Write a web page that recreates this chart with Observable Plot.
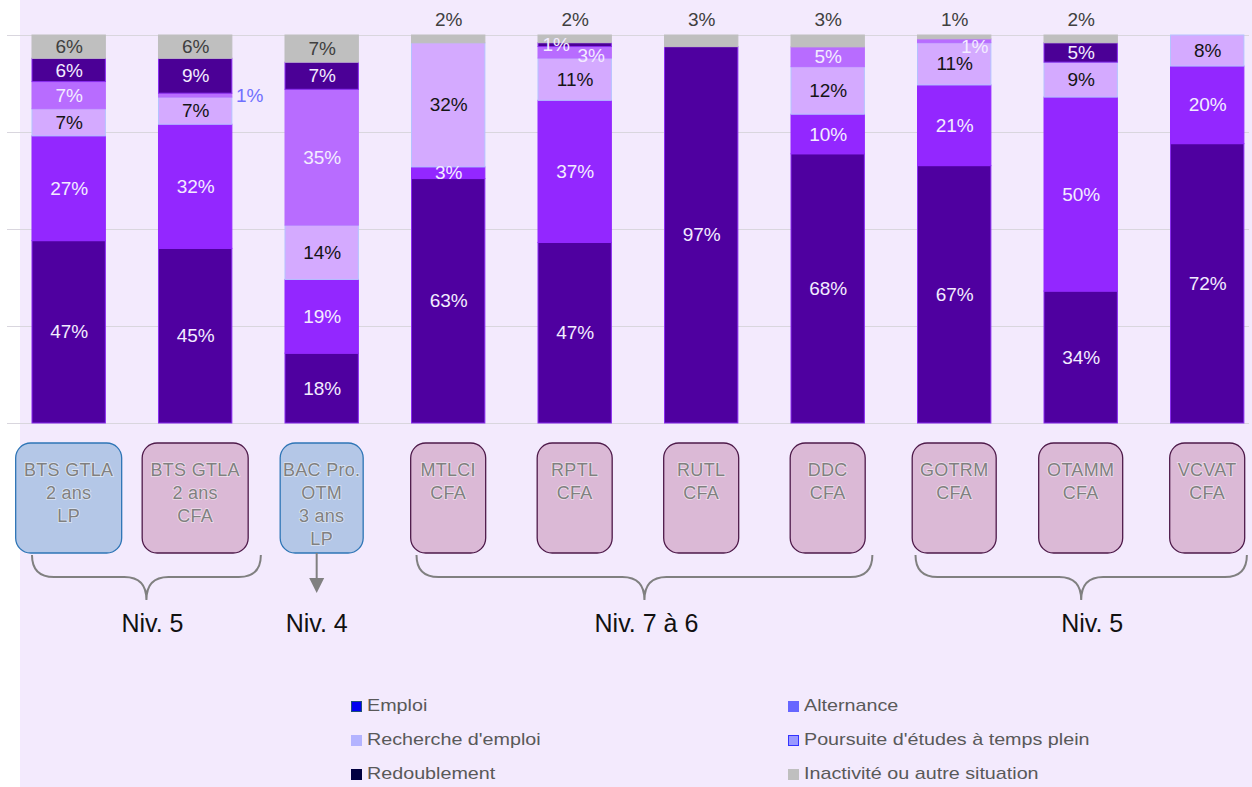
<!DOCTYPE html>
<html><head><meta charset="utf-8">
<script src="https://cdn.jsdelivr.net/npm/d3@7"></script>
<script src="https://cdn.jsdelivr.net/npm/@observablehq/plot@0.6"></script>
<style>
html,body{margin:0;padding:0}
body{width:1252px;height:787px;overflow:hidden;background:linear-gradient(to right,#ffffff 20px,#f3eafd 20px);font-family:"Liberation Sans",Arial,sans-serif}
#legend{position:relative;height:127px}
.lg{position:absolute;display:flex;align-items:center;font-size:17px;color:#595959;white-space:nowrap}
.lg .tx{display:inline-block;transform:scaleX(1.16);transform-origin:left center}
.sw{width:11px;height:11px;margin-right:5px;box-sizing:border-box}
</style></head><body>
<div id="chart"></div>
<div id="legend"></div>
<script>
// ---------- data ----------
const categories = ["BTS GTLA\n2 ans\nLP", "BTS GTLA\n2 ans\nCFA", "BAC Pro.\nOTM\n3 ans\nLP", "MTLCI\nCFA", "RPTL\nCFA", "RUTL\nCFA", "DDC\nCFA", "GOTRM\nCFA", "OTAMM\nCFA", "VCVAT\nCFA"];
const series = ["Emploi", "Alternance", "Recherche d'emploi", "Poursuite d'études à temps plein", "Redoublement", "Inactivité ou autre situation"];
const emploi       = [47, 45, 18, 63, 47, 97, 68, 67, 34, 72];
const alternance   = [27, 32, 19,  3, 37,  0, 10, 21, 50, 20];
const recherche    = [ 7,  7, 14, 32, 11,  0, 12, 11,  9,  8];
const poursuite    = [ 7,  1, 35,  0,  3,  0,  5,  1,  0,  0];
const redoublement = [ 6,  9,  7,  0,  1,  0,  0,  0,  5,  0];
const inactivite   = [ 6,  6,  7,  2,  2,  3,  3,  1,  2,  0];
const groupLabels = ["Niv. 5", "Niv. 4", "Niv. 7 à 6", "Niv. 5"];
const groupFirst  = [0, 2, 3, 7];
const groupLast   = [1, 2, 6, 9];

// ---------- styles ----------
const barFill   = ["#4f00a0", "#9327ff", "#d4aaff", "#b86cff", "#4b0096", "#bfbfbf"];
const barStroke = ["#8a2cf0", "#9327ff", "#b4c2ff", "#b86cff", "#8a2cf0", "#bfbfbf"];
const labelFill = ["#f3ecff", "#f3ecff", "#141414", "#f3ecff", "#f3ecff", "#404040"];
const legendFill   = ["#0000f0", "#6666ff", "#b3b3ff", "#9999ff", "#000040", "#bfbfbf"];
const legendBorder = ["#1f4e79", "#6666ff", "#b3b3ff", "#3333ff", "#000040", "#bfbfbf"];
const boxWidths = [106, 106, 83, 75, 75, 75, 75, 84, 84, 75];
const groupKind = ["brace", "arrow", "brace", "brace"];
const braceExtra = [[0, 29], [0, 0], [5, 8], [-2, 3]];
const labelDx = [6, 0, 2, 11];
// special label placements [category index, series index, dx, dy, fill]
const labelTweaks = [[1, 3, 54, 0, "#7070ff"], [4, 4, -19, 0, "#f3ecff"], [4, 3, 16, 3, "#f3ecff"], [7, 3, 20, 6, "#f3ecff"]];

const valuesBySeries = [emploi, alternance, recherche, poursuite, redoublement, inactivite];
const rows = [];
categories.forEach((cat, i) => series.forEach((s, j) => {
  const v = valuesBySeries[j][i];
  if (v > 0) rows.push({cat, ci: i, series: s, si: j, value: v});
}));

const isTweak = d => labelTweaks.some(t => t[0] === d.ci && t[1] === d.si);
const isAbove = d => d.si === 5 && d.value < 5;
const stackOpts = extra => Plot.stackY({x: "cat", y: "value", z: "series", order: series, offset: "normalize", ...extra});
const FONT = "Liberation Sans, Arial, sans-serif";

const marks = [
  Plot.ruleY([0, 0.25, 0.5, 0.75, 1], {stroke: "#d9d6de", strokeWidth: 1.2}),
  Plot.barY(rows, stackOpts({fill: d => barFill[d.si], stroke: d => barStroke[d.si], strokeWidth: 1})),
  Plot.text(rows, stackOpts({text: d => (isTweak(d) || isAbove(d)) ? "" : d.value + "%", fill: d => labelFill[d.si], fontSize: 19, fontFamily: FONT})),
  Plot.text(rows, Plot.stackY2({x: "cat", y: "value", z: "series", order: series, offset: "normalize", text: d => isAbove(d) ? d.value + "%" : "", fill: "#404040", fontSize: 19, fontFamily: FONT, dy: -16}))
];
labelTweaks.forEach(t => {
  marks.push(Plot.text(rows, stackOpts({text: d => (d.ci === t[0] && d.si === t[1]) ? d.value + "%" : "", fill: t[4], dx: t[2], dy: t[3], fontSize: 19, fontFamily: FONT})));
});

const chart = Plot.plot({
  width: 1252, height: 660,
  marginTop: 35, marginBottom: 237, marginLeft: 7, marginRight: 3,
  style: {background: "transparent", overflow: "visible"},
  x: {domain: categories, paddingInner: 0.42, paddingOuter: 0.119, align: 0.83, round: false, axis: null},
  y: {domain: [0, 1], axis: null},
  color: {type: "identity"},
  marks
});
document.getElementById("chart").appendChild(chart);

// ---------- category boxes, braces, level labels (positioned with the plot's x scale) ----------
const xs = chart.scale("x");
const bw = xs.bandwidth;
const cxOf = i => xs.apply(categories[i]) + bw / 2;
const svg = d3.select(chart);
const g = svg.append("g").attr("font-family", FONT);
const frameBottom = 660 - 237;
const boxTop = frameBottom + 20, boxH = 110;
categories.forEach((c, i) => {
  const cx = cxOf(i), w = boxWidths[i], lp = c.endsWith("LP");
  g.append("rect").attr("x", cx - w / 2).attr("y", boxTop).attr("width", w).attr("height", boxH)
    .attr("rx", 15).attr("fill", lp ? "#b4c7e7" : "#dbb9d6").attr("stroke", lp ? "#2e75b6" : "#4e1a4a").attr("stroke-width", 1.3);
  c.split("\n").forEach((line, j) => {
    g.append("text").attr("x", cx).attr("y", boxTop + 33 + j * 23).attr("text-anchor", "middle")
      .attr("font-size", 18).attr("fill", "#808080").attr("stroke", "#ffffff").attr("stroke-opacity", 0.55)
      .attr("stroke-width", 1.6).attr("paint-order", "stroke").attr("letter-spacing", 0.3).text(line);
  });
});
groupLabels.forEach((lab, k) => {
  const a = groupFirst[k], b = groupLast[k];
  const left = xs.apply(categories[a]) + braceExtra[k][0];
  const right = xs.apply(categories[b]) + bw + braceExtra[k][1];
  const y0 = boxTop + boxH + 2, yh = y0 + 22, yt = y0 + 45;
  let cx;
  if (groupKind[k] === "brace") {
    cx = (left + right) / 2;
    const r = 22;
    g.append("path").attr("fill", "none").attr("stroke", "#808080").attr("stroke-width", 2)
      .attr("d", `M${left},${y0} Q${left},${yh} ${left + r},${yh} L${cx - r},${yh} Q${cx},${yh} ${cx},${yt} Q${cx},${yh} ${cx + r},${yh} L${right - r},${yh} Q${right},${yh} ${right},${y0}`);
  } else {
    cx = cxOf(a) - 5;
    g.append("line").attr("x1", cx).attr("x2", cx).attr("y1", boxTop + boxH).attr("y2", boxTop + boxH + 27)
      .attr("stroke", "#808080").attr("stroke-width", 2);
    g.append("path").attr("fill", "#808080")
      .attr("d", `M${cx - 7.5},${boxTop + boxH + 25} L${cx + 7.5},${boxTop + boxH + 25} L${cx},${boxTop + boxH + 40} Z`);
  }
  g.append("text").attr("x", cx + labelDx[k]).attr("y", yt + 32).attr("text-anchor", "middle")
    .attr("font-size", 25).attr("fill", "#111111").text(lab);
});

// ---------- legend ----------
const legend = document.getElementById("legend");
series.forEach((s, j) => {
  const col = j % 2, row = Math.floor(j / 2);
  const el = document.createElement("div");
  el.className = "lg";
  el.style.left = (col === 0 ? 351 : 788) + "px";
  el.style.top = (46 + row * 34 - 11) + "px";
  el.style.height = "22px";
  const sw = document.createElement("span");
  sw.className = "sw";
  sw.style.background = legendFill[j];
  sw.style.border = "1px solid " + legendBorder[j];
  el.appendChild(sw);
  const tx = document.createElement("span");
  tx.className = "tx";
  tx.textContent = s;
  el.appendChild(tx);
  legend.appendChild(el);
});
</script>
</body></html>
